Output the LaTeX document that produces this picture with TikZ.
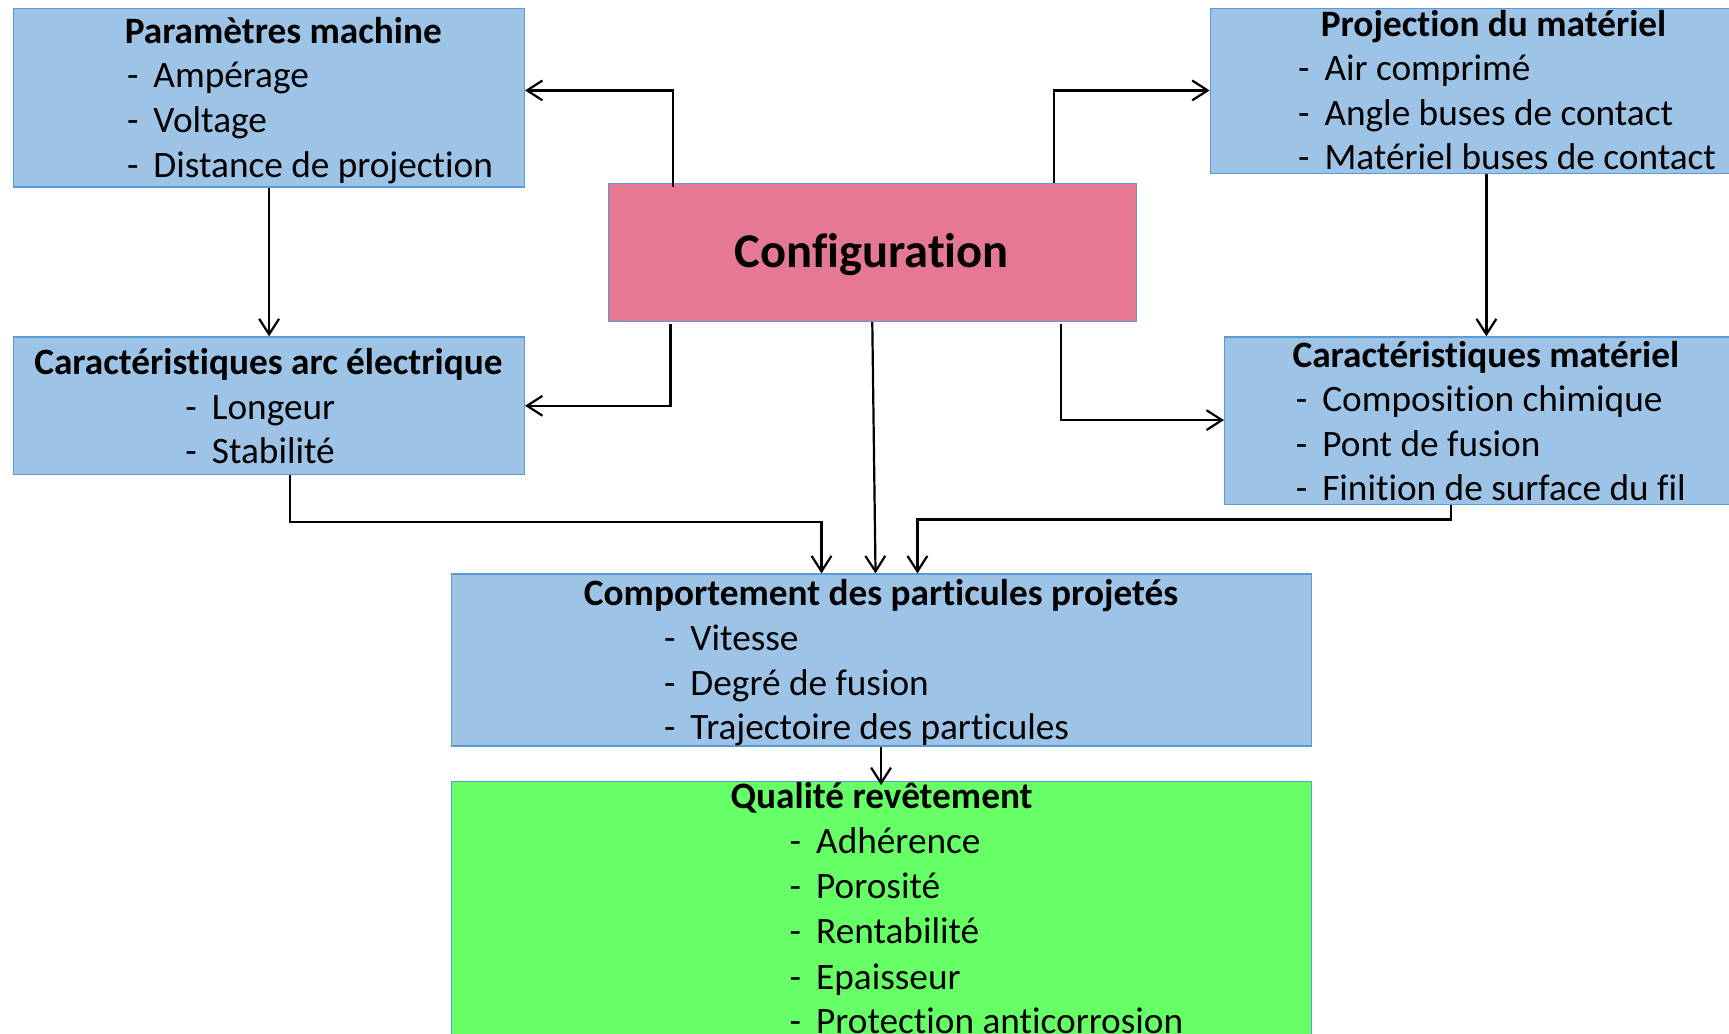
\documentclass[tikz,border=0pt]{standalone}
\usepackage{fontspec}
\setmainfont{Carlito}[RawFeature={-liga;-clig;-dlig;-calt}]
\usetikzlibrary{arrows.meta,calc}
\definecolor{boxblue}{RGB}{157,195,230}
\definecolor{edgeblue}{RGB}{91,155,213}
\definecolor{cfgpink}{RGB}{229,121,148}
\definecolor{qgreen}{RGB}{102,255,102}
\newcommand{\dashitem}[1]{\makebox[24pt][l]{-}#1}
\tikzset{
  bx/.style={draw=edgeblue, line width=1.1pt, rectangle, anchor=north west, inner sep=0pt},
  bluebox/.style={bx, fill=boxblue},
  ttl/.style={anchor=base, inner sep=0pt, font=\fontsize{33.8}{40}\selectfont\bfseries},
  itm/.style={anchor=base west, inner sep=0pt, font=\fontsize{33.8}{40}\selectfont},
  arr/.style={draw=black, line width=2pt, -{Straight Barb[length=14pt,width=18pt,line width=2pt]}},
  ln/.style={draw=black, line width=2pt}
}
\begin{document}
\begin{tikzpicture}[x=1pt,y=-1pt]
\clip (0,0) rectangle (1568,937);
\fill[white] (0,0) rectangle (1568,937);
% boxes
\node[bluebox, minimum width=463pt, minimum height=162pt] (param) at (12,7) {};
\node[bluebox, minimum width=490pt, minimum height=150pt] (proj) at (1097,7) {};
\node[bx, fill=cfgpink, minimum width=479pt, minimum height=125pt] (config) at (551,166) {};
\node[bluebox, minimum width=463pt, minimum height=125pt] (arc) at (12,305) {};
\node[bluebox, minimum width=477pt, minimum height=152pt] (mat) at (1110,305) {};
\node[bluebox, minimum width=780pt, minimum height=156pt] (comp) at (409,520) {};
\node[bx, fill=qgreen, minimum width=780pt, minimum height=250pt] (qual) at (409,708) {};
% texts
\node[ttl] (param-t) at (257,39) {Paramètres machine};
\node[itm] (param-1) at (115,79) {\dashitem{Ampérage}};
\node[itm] (param-2) at (115,120) {\dashitem{Voltage}};
\node[itm] (param-3) at (115,161) {\dashitem{Distance de projection}};

\node[ttl] (proj-t) at (1354.5,33) {Projection du matériel};
\node[itm] (proj-1) at (1177,73) {\dashitem{Air comprimé}};
\node[itm] (proj-2) at (1177,114) {\dashitem{Angle buses de contact}};
\node[itm] (proj-3) at (1177,154) {\dashitem{Matériel buses de contact}};

\node[anchor=base, inner sep=0pt, font=\fontsize{44}{50}\selectfont\bfseries] (config-t) at (790.5,243) {Configuration};

\node[ttl] (arc-t) at (243.5,340) {Caractéristiques arc électrique};
\node[itm] (arc-1) at (168,380) {\dashitem{Longeur}};
\node[itm] (arc-2) at (168,420) {\dashitem{Stabilité}};

\node[ttl] (mat-t) at (1347.5,333) {Caractéristiques matériel};
\node[itm] (mat-1) at (1175,373) {\dashitem{Composition chimique}};
\node[itm] (mat-2) at (1175,414) {\dashitem{Pont de fusion}};
\node[itm] (mat-3) at (1175,454) {\dashitem{Finition de surface du fil}};

\node[ttl] (comp-t) at (799,549) {Comportement des particules projetés};
\node[itm] (comp-1) at (602,590) {\dashitem{Vitesse}};
\node[itm] (comp-2) at (602,631) {\dashitem{Degré de fusion}};
\node[itm] (comp-3) at (602,671) {\dashitem{Trajectoire des particules}};

\node[ttl] (qual-t) at (799.5,733) {Qualité revêtement};
\node[itm] (qual-1) at (716,774) {\dashitem{Adhérence}};
\node[itm] (qual-2) at (716,815) {\dashitem{Porosité}};
\node[itm] (qual-3) at (716,856) {\dashitem{Rentabilité}};
\node[itm] (qual-4) at (716,897) {\dashitem{Epaisseur}};
\node[itm] (qual-5) at (716,937) {\dashitem{Protection anticorrosion}};
% connectors
\draw[arr] ($(config.north west)+(59,4)$) |- ($(param.north east)+(0,75)$);
\draw[arr] ($(config.north west)+(405,0)$) |- ($(proj.north west)+(0,75)$);
\draw[arr] ($(config.south west)+(57,2)$) |- ($(arc.north east)+(0,63)$);
\draw[arr] ($(config.south west)+(411,2)$) |- ($(mat.north west)+(0,76)$);
\draw[arr] (config.south) -- ($(comp.north west)+(385,0)$);
\draw[arr] (param.south) -- (arc.north);
\draw[arr] ($(proj.south west)+(251,0)$) -- ($(mat.north west)+(238,0)$);
\draw[arr] ($(arc.south west)+(251,0)$) -- ($(arc.south west)+(251,42)$) -| ($(comp.north west)+(336,0)$);
\draw[arr] ($(mat.south west)+(206,0)$) -- ($(mat.south west)+(206,13)$) -| ($(comp.north west)+(423,0)$);
\draw[arr] ($(comp.south west)+(390,0)$) -- ($(qual.north west)+(390,4)$);
\end{tikzpicture}
\end{document}
